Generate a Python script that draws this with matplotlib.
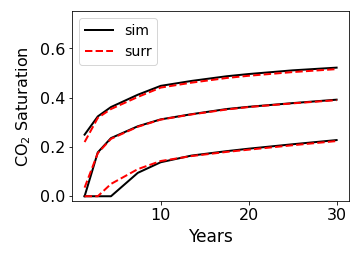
import numpy as np
import matplotlib
matplotlib.use("Agg")
import matplotlib.pyplot as plt

years = [1.35, 2.85, 4.35, 7.4, 10.0, 13.5, 17.5, 20.0, 25.0, 30.0]

sim_top = [0.25, 0.324, 0.362, 0.412, 0.448, 0.468, 0.487, 0.496, 0.511, 0.522]
surr_top = [0.22, 0.318, 0.354, 0.403, 0.441, 0.461, 0.480, 0.489, 0.504, 0.516]

sim_mid = [0.0, 0.178, 0.236, 0.284, 0.312, 0.333, 0.354, 0.363, 0.378, 0.392]
surr_mid = [0.035, 0.175, 0.233, 0.282, 0.311, 0.332, 0.352, 0.362, 0.377, 0.390]

sim_low = [0.0, 0.0, 0.0, 0.095, 0.138, 0.165, 0.183, 0.193, 0.211, 0.228]
surr_low = [0.0, 0.0, 0.05, 0.11, 0.143, 0.163, 0.180, 0.189, 0.207, 0.224]

fig, ax = plt.subplots(figsize=(5.0, 3.6), dpi=72)
fig.subplots_adjust(left=0.2, right=0.97, bottom=0.225, top=0.955)

ax.plot(years, sim_top, color='black', lw=2, label='sim')
ax.plot(years, surr_top, color='red', lw=2, ls='--', label='surr')
ax.plot(years, sim_mid, color='black', lw=2)
ax.plot(years, surr_mid, color='red', lw=2, ls='--')
ax.plot(years, sim_low, color='black', lw=2)
ax.plot(years, surr_low, color='red', lw=2, ls='--')

ax.set_ylim(-0.018, 0.75)
ax.set_yticks([0.0, 0.2, 0.4, 0.6])
ax.set_xticks([10, 20, 30])
ax.tick_params(labelsize=16)
ax.set_xlabel('Years', fontsize=17, labelpad=5)
ax.set_ylabel('CO$_2$ Saturation', fontsize=16, labelpad=7)
ax.legend(loc='upper left', fontsize=14)

fig.savefig('out.png')
